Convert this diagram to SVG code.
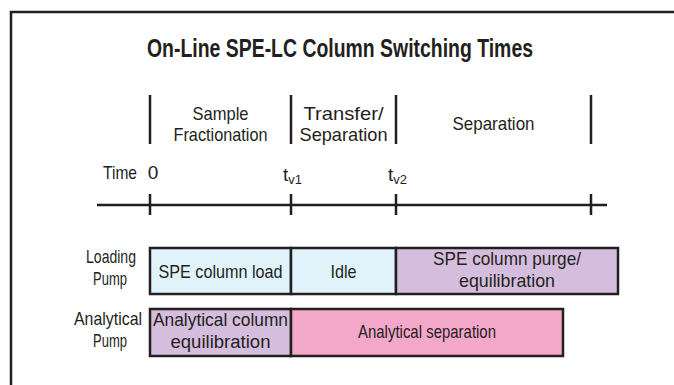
<svg xmlns="http://www.w3.org/2000/svg" width="674" height="385" viewBox="0 0 674 385">
<style>
text{font-family:"Liberation Sans",Arial,sans-serif;fill:#231f20;font-size:19px;text-anchor:middle}
.title{font-weight:bold;font-size:26px}
.ln{stroke:#231f20;stroke-width:2.5;fill:none}
.box{stroke:#231f20;stroke-width:2.5}
.blue{fill:#e0f3fa}
.purple{fill:#d5bedd}
.pink{fill:#f3a8c9}
.sub{font-size:13px}
</style>
<rect x="0" y="0" width="674" height="385" fill="#fff"/>
<path class="ln" d="M11,385 V12 H674"/>
<text class="title" x="340" y="57" textLength="386" lengthAdjust="spacingAndGlyphs">On-Line SPE-LC Column Switching Times</text>
<g id="connectors">
<path class="ln" d="M150,95 V144 M291,95 V144 M396,95 V144 M591,95 V144"/>
<path class="ln" d="M97,205 H607 M150,194 V215 M291,194 V215 M396,194 V215 M591,194 V215"/>
</g>
<g id="phase-labels">
<text x="220.5" y="120" textLength="56" lengthAdjust="spacingAndGlyphs">Sample</text>
<text x="220.5" y="141" textLength="94" lengthAdjust="spacingAndGlyphs">Fractionation</text>
<text x="343.5" y="120" textLength="80" lengthAdjust="spacingAndGlyphs">Transfer/</text>
<text x="343.5" y="141" textLength="88" lengthAdjust="spacingAndGlyphs">Separation</text>
<text x="493.5" y="130" textLength="82" lengthAdjust="spacingAndGlyphs">Separation</text>
</g>
<g id="time-labels">
<text x="120" y="179" textLength="34" lengthAdjust="spacingAndGlyphs">Time</text>
<text x="153" y="179">0</text>
<text x="283" y="181" style="text-anchor:start">t<tspan class="sub" dy="3">v1</tspan></text>
<text x="388" y="181" style="text-anchor:start">t<tspan class="sub" dy="3">v2</tspan></text>
</g>
<g id="loading-pump">
<text x="111" y="263" textLength="50" lengthAdjust="spacingAndGlyphs">Loading</text>
<text x="110" y="285" textLength="34" lengthAdjust="spacingAndGlyphs">Pump</text>
</g>
<g id="analytical-pump">
<text x="108" y="325" textLength="68" lengthAdjust="spacingAndGlyphs">Analytical</text>
<text x="110" y="347" textLength="34" lengthAdjust="spacingAndGlyphs">Pump</text>
</g>
<g id="spe-column-load">
<rect class="box blue" x="150" y="248" width="141" height="46"/>
<text x="220.5" y="278" textLength="124" lengthAdjust="spacingAndGlyphs">SPE column load</text>
</g>
<g id="idle">
<rect class="box blue" x="291" y="248" width="105" height="46"/>
<text x="343.5" y="278" textLength="26" lengthAdjust="spacingAndGlyphs">Idle</text>
</g>
<g id="spe-purge">
<rect class="box purple" x="396" y="248" width="222" height="46"/>
<text x="507" y="265" textLength="148" lengthAdjust="spacingAndGlyphs">SPE column purge/</text>
<text x="507" y="287" textLength="96" lengthAdjust="spacingAndGlyphs">equilibration</text>
</g>
<g id="analytical-equilibration">
<rect class="box purple" x="150" y="309" width="141" height="47"/>
<text x="220.5" y="326" textLength="135" lengthAdjust="spacingAndGlyphs">Analytical column</text>
<text x="220.5" y="348" textLength="100" lengthAdjust="spacingAndGlyphs">equilibration</text>
</g>
<g id="analytical-separation">
<rect class="box pink" x="291" y="309" width="272" height="47"/>
<text x="427" y="338" textLength="138" lengthAdjust="spacingAndGlyphs">Analytical separation</text>
</g>
</svg>
